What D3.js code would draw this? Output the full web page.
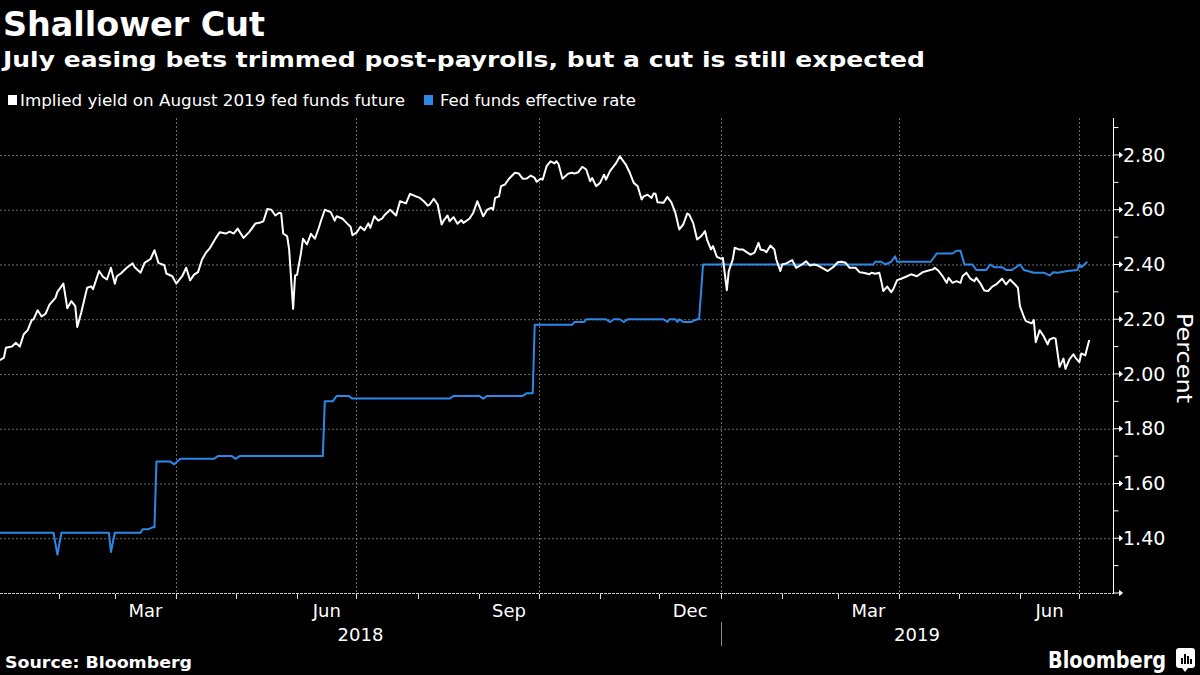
<!DOCTYPE html>
<html><head><meta charset="utf-8">
<script src="https://cdn.jsdelivr.net/npm/d3@7"></script>
<style>body{margin:0;background:#000}svg{display:block}</style>
</head><body>
<svg id="c" width="1200" height="675"></svg>
<script>
// ---------------- DATA ----------------
const titleText = "Shallower Cut";
const subtitleText = "July easing bets trimmed post-payrolls, but a cut is still expected";
const seriesNames = ["Implied yield on August 2019 fed funds future", "Fed funds effective rate"];
const sourceText = "Source: Bloomberg";
const axisTitle = "Percent";
const xDomain = ["2018-01-02", "2019-07-18"];
const yDomain = [1.2, 2.935];
const yTickValues = [1.4, 1.6, 1.8, 2.0, 2.2, 2.4, 2.6, 2.8];
const yMinorTicks = [1.3, 1.5, 1.7, 1.9, 2.1, 2.3, 2.5, 2.7, 2.9];
const quarterGrid = ["2018-04-01", "2018-07-01", "2018-10-01", "2019-01-01", "2019-04-01", "2019-07-01"];
const monthLabels = [["2018-03-01", "Mar"], ["2018-06-01", "Jun"], ["2018-09-01", "Sep"], ["2018-12-01", "Dec"], ["2019-03-01", "Mar"], ["2019-06-01", "Jun"]];
const yearLabels = [["2018", "2018-01-02", "2019-01-01"], ["2019", "2019-01-01", "2019-07-18"]];

const impliedYield = [
["2018-01-02",2.05],["2018-01-04",2.06],["2018-01-05",2.096],["2018-01-08",2.10],["2018-01-10",2.114],["2018-01-12",2.10],
["2018-01-14",2.145],["2018-01-16",2.16],["2018-01-18",2.197],["2018-01-19",2.20],["2018-01-21",2.233],["2018-01-23",2.21],
["2018-01-25",2.22],["2018-01-27",2.253],["2018-01-30",2.278],["2018-01-31",2.30],["2018-02-03",2.33],["2018-02-05",2.24],
["2018-02-07",2.266],["2018-02-09",2.248],["2018-02-10",2.172],["2018-02-12",2.224],["2018-02-15",2.315],["2018-02-17",2.32],
["2018-02-18",2.31],["2018-02-21",2.376],["2018-02-23",2.355],["2018-02-25",2.345],["2018-02-27",2.388],["2018-03-01",2.33],
["2018-03-02",2.357],["2018-03-04",2.367],["2018-03-07",2.388],["2018-03-10",2.404],["2018-03-11",2.39],["2018-03-14",2.37],
["2018-03-16",2.406],["2018-03-19",2.42],["2018-03-21",2.452],["2018-03-23",2.406],["2018-03-26",2.397],["2018-03-27",2.367],
["2018-03-30",2.357],["2018-04-01",2.33],["2018-04-04",2.357],["2018-04-06",2.388],["2018-04-08",2.342],["2018-04-10",2.363],
["2018-04-12",2.372],["2018-04-14",2.418],["2018-04-16",2.443],["2018-04-18",2.46],["2018-04-20",2.485],["2018-04-21",2.497],
["2018-04-23",2.518],["2018-04-26",2.513],["2018-04-28",2.52],["2018-04-30",2.513],["2018-05-02",2.531],["2018-05-05",2.497],
["2018-05-08",2.52],["2018-05-11",2.55],["2018-05-13",2.552],["2018-05-15",2.558],["2018-05-17",2.603],["2018-05-19",2.60],
["2018-05-21",2.579],["2018-05-23",2.589],["2018-05-24",2.586],["2018-05-25",2.513],["2018-05-27",2.503],["2018-05-28",2.455],
["2018-05-30",2.238],["2018-05-31",2.36],["2018-06-01",2.362],["2018-06-03",2.443],["2018-06-04",2.494],["2018-06-06",2.473],
["2018-06-08",2.512],["2018-06-10",2.494],["2018-06-12",2.534],["2018-06-13",2.558],["2018-06-15",2.60],["2018-06-18",2.591],
["2018-06-20",2.56],["2018-06-21",2.576],["2018-06-24",2.567],["2018-06-26",2.552],["2018-06-28",2.538],["2018-06-29",2.507],
["2018-07-01",2.516],["2018-07-03",2.538],["2018-07-05",2.525],["2018-07-07",2.55],["2018-07-08",2.534],["2018-07-10",2.576],
["2018-07-12",2.56],["2018-07-14",2.568],["2018-07-15",2.579],["2018-07-18",2.60],["2018-07-21",2.579],["2018-07-23",2.631],
["2018-07-26",2.623],["2018-07-28",2.658],["2018-07-31",2.649],["2018-08-02",2.643],["2018-08-04",2.631],["2018-08-06",2.615],
["2018-08-07",2.619],["2018-08-09",2.64],["2018-08-11",2.619],["2018-08-13",2.546],["2018-08-14",2.56],["2018-08-16",2.579],
["2018-08-17",2.558],["2018-08-19",2.573],["2018-08-21",2.549],["2018-08-23",2.562],["2018-08-24",2.552],["2018-08-27",2.567],
["2018-08-29",2.589],["2018-08-31",2.631],["2018-09-01",2.613],["2018-09-03",2.576],["2018-09-05",2.60],["2018-09-07",2.607],
["2018-09-08",2.60],["2018-09-09",2.643],["2018-09-11",2.649],["2018-09-12",2.686],["2018-09-14",2.692],["2018-09-16",2.713],
["2018-09-19",2.735],["2018-09-21",2.732],["2018-09-23",2.713],["2018-09-25",2.714],["2018-09-27",2.725],["2018-09-29",2.716],
["2018-09-30",2.702],["2018-10-02",2.713],["2018-10-03",2.71],["2018-10-05",2.759],["2018-10-07",2.777],["2018-10-09",2.769],
["2018-10-10",2.777],["2018-10-11",2.767],["2018-10-13",2.713],["2018-10-16",2.732],["2018-10-18",2.735],["2018-10-19",2.732],
["2018-10-21",2.737],["2018-10-23",2.757],["2018-10-25",2.747],["2018-10-27",2.704],["2018-10-28",2.716],["2018-10-30",2.686],
["2018-11-01",2.698],["2018-11-03",2.728],["2018-11-04",2.71],["2018-11-06",2.741],["2018-11-09",2.769],["2018-11-11",2.795],
["2018-11-14",2.765],["2018-11-16",2.735],["2018-11-18",2.698],["2018-11-20",2.686],["2018-11-22",2.637],["2018-11-23",2.649],
["2018-11-25",2.655],["2018-11-27",2.643],["2018-11-28",2.659],["2018-11-29",2.658],["2018-11-30",2.627],["2018-12-03",2.625],
["2018-12-05",2.647],["2018-12-07",2.627],["2018-12-09",2.589],["2018-12-11",2.528],["2018-12-13",2.546],["2018-12-15",2.586],
["2018-12-16",2.582],["2018-12-18",2.552],["2018-12-20",2.491],["2018-12-22",2.503],["2018-12-24",2.522],["2018-12-25",2.491],
["2018-12-27",2.455],["2018-12-28",2.467],["2018-12-30",2.428],["2019-01-01",2.421],["2019-01-02",2.424],["2019-01-04",2.306],
["2019-01-05",2.376],["2019-01-07",2.418],["2019-01-08",2.461],["2019-01-10",2.455],["2019-01-12",2.455],["2019-01-14",2.445],
["2019-01-16",2.436],["2019-01-18",2.443],["2019-01-20",2.479],["2019-01-21",2.455],["2019-01-23",2.451],["2019-01-24",2.445],
["2019-01-26",2.469],["2019-01-28",2.455],["2019-01-29",2.418],["2019-01-31",2.376],["2019-02-01",2.40],["2019-02-03",2.404],
["2019-02-06",2.416],["2019-02-08",2.388],["2019-02-11",2.40],["2019-02-13",2.412],["2019-02-15",2.396],["2019-02-17",2.40],
["2019-02-19",2.396],["2019-02-22",2.384],["2019-02-24",2.376],["2019-02-27",2.392],["2019-03-01",2.408],["2019-03-03",2.41],
["2019-03-05",2.406],["2019-03-07",2.388],["2019-03-10",2.388],["2019-03-12",2.372],["2019-03-14",2.37],["2019-03-17",2.364],
["2019-03-18",2.37],["2019-03-20",2.366],["2019-03-22",2.37],["2019-03-23",2.339],["2019-03-24",2.303],["2019-03-26",2.319],
["2019-03-28",2.299],["2019-03-29",2.309],["2019-03-31",2.343],["2019-04-02",2.348],["2019-04-05",2.357],["2019-04-07",2.364],
["2019-04-10",2.357],["2019-04-13",2.372],["2019-04-15",2.376],["2019-04-18",2.382],["2019-04-19",2.388],["2019-04-21",2.376],
["2019-04-23",2.357],["2019-04-25",2.333],["2019-04-26",2.351],["2019-04-28",2.333],["2019-04-30",2.339],["2019-05-02",2.333],
["2019-05-03",2.357],["2019-05-05",2.37],["2019-05-07",2.348],["2019-05-09",2.339],["2019-05-10",2.351],["2019-05-12",2.331],
["2019-05-14",2.305],["2019-05-16",2.303],["2019-05-18",2.319],["2019-05-20",2.327],["2019-05-23",2.348],["2019-05-25",2.327],
["2019-05-27",2.345],["2019-05-30",2.323],["2019-05-31",2.315],["2019-06-01",2.248],["2019-06-03",2.209],["2019-06-04",2.193],
["2019-06-07",2.185],["2019-06-08",2.197],["2019-06-09",2.116],["2019-06-11",2.16],["2019-06-13",2.138],["2019-06-15",2.108],
["2019-06-16",2.126],["2019-06-18",2.132],["2019-06-19",2.129],["2019-06-21",2.026],["2019-06-23",2.056],["2019-06-24",2.019],
["2019-06-26",2.053],["2019-06-28",2.072],["2019-06-29",2.06],["2019-07-01",2.043],["2019-07-02",2.075],["2019-07-04",2.068],
["2019-07-06",2.124]
];

const effectiveRate = [
["2018-01-02",1.42],["2018-01-29",1.42],["2018-01-31",1.34],["2018-02-02",1.42],["2018-02-26",1.42],["2018-02-27",1.35],
["2018-03-01",1.42],["2018-03-14",1.42],["2018-03-15",1.433],["2018-03-18",1.433],["2018-03-20",1.44],["2018-03-21",1.44],
["2018-03-22",1.68],["2018-03-29",1.68],["2018-03-31",1.67],["2018-04-03",1.69],["2018-04-20",1.69],["2018-04-22",1.70],
["2018-04-29",1.70],["2018-05-01",1.69],["2018-05-03",1.70],["2018-06-14",1.70],["2018-06-15",1.90],["2018-06-19",1.90],
["2018-06-21",1.92],["2018-06-27",1.92],["2018-06-29",1.91],["2018-08-17",1.91],["2018-08-19",1.92],["2018-09-01",1.92],
["2018-09-03",1.91],["2018-09-05",1.92],["2018-09-23",1.92],["2018-09-25",1.93],["2018-09-28",1.93],["2018-09-29",2.18],
["2018-10-18",2.18],["2018-10-19",2.19],["2018-10-24",2.19],["2018-10-25",2.20],["2018-11-04",2.20],["2018-11-06",2.19],
["2018-11-08",2.20],["2018-11-11",2.20],["2018-11-13",2.19],["2018-11-15",2.20],["2018-12-03",2.20],["2018-12-05",2.19],
["2018-12-06",2.20],["2018-12-09",2.20],["2018-12-10",2.19],["2018-12-11",2.20],["2018-12-13",2.19],["2018-12-17",2.19],
["2018-12-20",2.20],["2018-12-21",2.20],["2018-12-23",2.40],["2019-03-19",2.40],["2019-03-20",2.41],["2019-03-23",2.41],
["2019-03-25",2.40],["2019-03-28",2.41],["2019-03-30",2.43],["2019-03-31",2.41],["2019-04-17",2.41],["2019-04-20",2.44],
["2019-04-28",2.44],["2019-04-30",2.45],["2019-05-02",2.45],["2019-05-04",2.40],["2019-05-08",2.40],["2019-05-10",2.38],
["2019-05-15",2.38],["2019-05-17",2.40],["2019-05-19",2.39],["2019-05-23",2.39],["2019-05-25",2.38],["2019-05-28",2.38],
["2019-05-30",2.39],["2019-06-01",2.40],["2019-06-03",2.38],["2019-06-08",2.37],["2019-06-13",2.37],["2019-06-16",2.36],
["2019-06-18",2.372],["2019-06-20",2.37],["2019-06-25",2.376],["2019-06-30",2.38],["2019-07-01",2.40],["2019-07-02",2.39],
["2019-07-05",2.41]
];

const colors = {white: "#ffffff", blue: "#2d87e6", grid: "#6a6a6a"};

// ---------------- DRAW ----------------
const svg = d3.select("#c");
const parse = d3.timeParse("%Y-%m-%d");
const plotLeft = 0, plotRight = 1113, plotTop = 118, plotBottom = 593;
const x = d3.scaleTime().domain(xDomain.map(parse)).range([plotLeft, plotRight]);
const y = d3.scaleLinear().domain(yDomain).range([plotBottom, plotTop]);

svg.append("rect").attr("width", 1200).attr("height", 675).attr("fill", "#000");

const headFont = "'DejaVu Sans Condensed','DejaVu Sans',sans-serif";
const bodyFont = "'DejaVu Sans',sans-serif";

svg.append("text").attr("x", 3).attr("y", 36).text(titleText)
  .attr("fill", "#fff").attr("font-family", headFont).attr("font-weight", 700)
  .attr("font-size", 34).attr("textLength", 262).attr("lengthAdjust", "spacingAndGlyphs");
svg.append("text").attr("x", 3).attr("y", 67).text(subtitleText)
  .attr("fill", "#fff").attr("font-family", headFont).attr("font-weight", 700)
  .attr("font-size", 22).attr("textLength", 922).attr("lengthAdjust", "spacingAndGlyphs");

// legend
const legend = [
  {name: seriesNames[0], color: colors.white, sx: 8, tx: 20, len: 385},
  {name: seriesNames[1], color: colors.blue, sx: 424, tx: 440, len: 196}
];
legend.forEach(l => {
  svg.append("rect").attr("x", l.sx).attr("y", 95).attr("width", 9).attr("height", 10).attr("fill", l.color);
  svg.append("text").attr("x", l.tx).attr("y", 106).text(l.name).attr("fill", "#fff")
    .attr("font-family", headFont).attr("font-size", 16)
    .attr("textLength", l.len).attr("lengthAdjust", "spacingAndGlyphs");
});

// gridlines
const grid = svg.append("g");
grid.selectAll(".hg").data(yTickValues).join("line")
  .attr("x1", plotLeft).attr("x2", plotRight)
  .attr("y1", d => y(d) + 0.5).attr("y2", d => y(d) + 0.5)
  .attr("stroke", colors.grid).attr("stroke-dasharray", "2,2");
grid.selectAll(".vg").data(quarterGrid).join("line")
  .attr("x1", d => Math.round(x(parse(d))) + 0.5).attr("x2", d => Math.round(x(parse(d))) + 0.5)
  .attr("y1", plotTop).attr("y2", plotBottom)
  .attr("stroke", colors.grid).attr("stroke-dasharray", "2,2");

// bottom axis line
svg.append("line").attr("x1", plotLeft).attr("x2", plotRight + 1)
  .attr("y1", plotBottom + 0.5).attr("y2", plotBottom + 0.5)
  .attr("stroke", "#d0d0d0").attr("stroke-dasharray", "3,1");

// month ticks
const months = d3.timeMonth.range(d3.timeMonth.ceil(x.domain()[0]), x.domain()[1]);
svg.append("g").selectAll("line").data(months).join("line")
  .attr("x1", d => Math.round(x(d)) + 0.5).attr("x2", d => Math.round(x(d)) + 0.5)
  .attr("y1", plotBottom + 1).attr("y2", plotBottom + 6)
  .attr("stroke", "#ddd");

// month labels centered in month
svg.append("g").selectAll("text").data(monthLabels).join("text")
  .attr("x", d => { const s = parse(d[0]); return (x(s) + x(d3.timeMonth.offset(s, 1))) / 2; })
  .attr("y", 617).attr("text-anchor", "middle").text(d => d[1])
  .attr("fill", "#fff").attr("font-family", bodyFont).attr("font-size", 18);

// year labels
svg.append("g").selectAll("text").data(yearLabels).join("text")
  .attr("x", d => (x(parse(d[1])) + x(parse(d[2]))) / 2)
  .attr("y", 641).attr("text-anchor", "middle").text(d => d[0])
  .attr("fill", "#fff").attr("font-family", bodyFont).attr("font-size", 18);
svg.append("line")
  .attr("x1", Math.round(x(parse(yearLabels[1][1]))) + 0.5).attr("x2", Math.round(x(parse(yearLabels[1][1]))) + 0.5)
  .attr("y1", 622).attr("y2", 646).attr("stroke", "#888");

// right axis
const ax = svg.append("g").attr("transform", `translate(${plotRight + 0.5},0)`);
ax.append("line").attr("x1", 0).attr("x2", 0).attr("y1", plotTop).attr("y2", plotBottom + 1).attr("stroke", "#fff");
ax.selectAll(".mn").data(yMinorTicks).join("line")
  .attr("x1", 0).attr("x2", 5).attr("y1", d => y(d)).attr("y2", d => y(d)).attr("stroke", "#fff");
ax.selectAll(".mj").data(yTickValues.concat([yDomain[0]])).join("path")
  .attr("d", d => { const yy = y(d); return `M0,${yy}H6M6,${yy - 2.5}L9,${yy}L6,${yy + 2.5}Z`; })
  .attr("stroke", "#fff").attr("fill", "#fff").attr("stroke-width", 1);
const yAxis = d3.axisRight(y).tickValues(yTickValues).tickFormat(d3.format(".2f")).tickSize(0).tickPadding(10);
const yAxisG = svg.append("g").attr("transform", `translate(${plotRight},0)`).call(yAxis);
yAxisG.select(".domain").remove();
yAxisG.selectAll("text").attr("fill", "#fff").attr("font-family", bodyFont).attr("font-size", 19);

svg.append("text").attr("transform", "translate(1177,358) rotate(90)")
  .attr("text-anchor", "middle").text(axisTitle).attr("fill", "#fff")
  .attr("font-family", bodyFont).attr("font-size", 22).attr("textLength", 90).attr("lengthAdjust", "spacingAndGlyphs");

// series lines
const line = d3.line().x(d => x(parse(d[0]))).y(d => y(d[1]));
svg.append("path").datum(effectiveRate).attr("d", line).attr("fill", "none")
  .attr("stroke", colors.blue).attr("stroke-width", 2).attr("stroke-linejoin", "round");
svg.append("path").datum(impliedYield).attr("d", line).attr("fill", "none")
  .attr("stroke", colors.white).attr("stroke-width", 2).attr("stroke-linejoin", "round");

// footer
svg.append("text").attr("x", 5).attr("y", 668).text(sourceText).attr("fill", "#fff")
  .attr("font-family", headFont).attr("font-weight", 700).attr("font-size", 16)
  .attr("textLength", 187).attr("lengthAdjust", "spacingAndGlyphs");
svg.append("text").attr("x", 1048).attr("y", 668).text("Bloomberg").attr("fill", "#fff")
  .attr("font-family", headFont).attr("font-weight", 700).attr("font-size", 23)
  .attr("textLength", 118).attr("lengthAdjust", "spacingAndGlyphs");
const logo = svg.append("g").attr("transform", "translate(1176,648)");
logo.append("rect").attr("width", 19).attr("height", 20).attr("rx", 3).attr("fill", "#fff");
logo.append("path").attr("d", "M6,20 L9,24 L12,20 Z").attr("fill", "#fff");
[[5, 10], [8, 6], [11, 8], [14, 11]].forEach(b => {
  logo.append("rect").attr("x", b[0]).attr("y", b[1]).attr("width", 2).attr("height", 16 - b[1]).attr("fill", "#000");
});
</script>
</body></html>
